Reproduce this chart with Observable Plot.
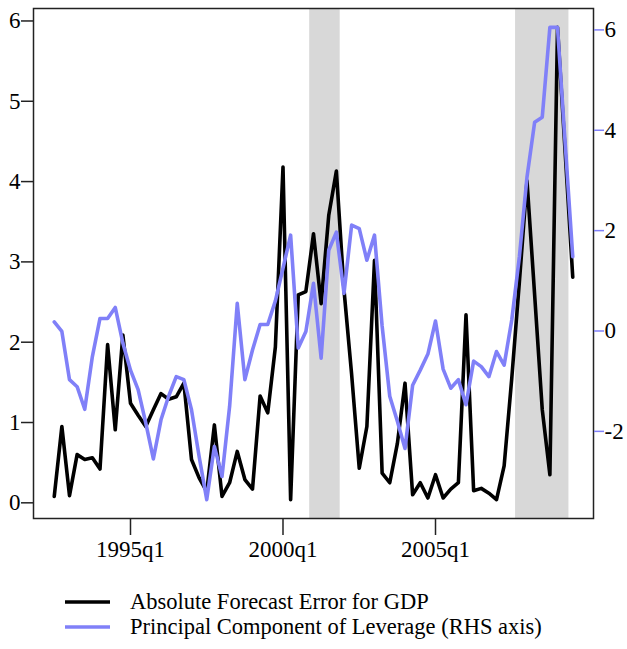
<!DOCTYPE html>
<html>
<head>
<meta charset="utf-8">
<script src="https://cdn.jsdelivr.net/npm/d3@7"></script>
<script src="https://cdn.jsdelivr.net/npm/@observablehq/plot@0.6"></script>
<style>
  html, body { margin: 0; padding: 0; background: white; }
  #legend { font-family: "Liberation Serif", serif; font-size: 22.5px; color: #000; margin-top: 14px; }
  .row { display: flex; align-items: center; height: 25px; padding-left: 65px; white-space: nowrap; }
  .row svg { margin-right: 20px; flex: none; }
  .row span { display: inline-block; line-height: 25px; }
</style>
</head>
<body>
<div id="chart"></div>
<div id="legend"></div>
<script>
// ---- data ----
const startYear = 1992, startQuarter = 3; // first observation 1992q3
const gdpError = [
  0.08, 0.95, 0.09, 0.60, 0.54, 0.56, 0.42, 1.97, 0.91, 2.09,
  1.24, 1.09, 0.95, 1.16, 1.36, 1.29, 1.32, 1.49, 0.54, 0.31,
  0.14, 0.97, 0.08, 0.25, 0.64, 0.29, 0.17, 1.33, 1.12, 1.94,
  4.18, 0.04, 2.59, 2.63, 3.35, 2.48, 3.58, 4.13, 2.65, 1.60,
  0.43, 0.95, 3.02, 0.37, 0.25, 0.74, 1.49, 0.10, 0.25, 0.06,
  0.35, 0.06, 0.17, 0.25, 2.34, 0.15, 0.18, 0.12, 0.04, 0.46,
  1.55, 2.75, 4.01, 2.59, 1.16, 0.35, 5.92, 4.37, 2.81
];
const leverage = [
  0.18, -0.01, -0.97, -1.11, -1.56, -0.51, 0.25, 0.25, 0.47, -0.24,
  -0.78, -1.17, -1.83, -2.55, -1.77, -1.30, -0.91, -0.97, -1.57, -2.50,
  -3.36, -2.30, -2.90, -1.50, 0.55, -0.97, -0.38, 0.13, 0.13, 0.60,
  1.25, 1.91, -0.34, -0.01, 0.95, -0.54, 1.61, 1.97, 0.75, 2.11,
  2.04, 1.41, 1.91, 0.10, -1.30, -1.80, -2.34, -1.08, -0.78, -0.46,
  0.20, -0.76, -1.14, -0.97, -1.47, -0.60, -0.71, -0.91, -0.41, -0.68,
  0.22, 1.48, 3.07, 4.16, 4.26, 6.05, 6.05, 3.75, 1.48
];
const recessionStart = ["2001q1", "2007q4"];
const recessionEnd   = ["2001q4", "2009q2"];
const xTickLabels = ["1995q1", "2000q1", "2005q1"];
const leftTicks = [0, 1, 2, 3, 4, 5, 6];
const rightTicks = [-2, 0, 2, 4, 6];
const seriesNames = ["Absolute Forecast Error for GDP", "Principal Component of Leverage (RHS axis)"];
const colors = ["#000000", "#8080f8"];

// ---- helpers ----
const qToNum = s => { const [y, q] = s.split("q").map(Number); return y + (q - 1) / 4; };
const time = gdpError.map((_, i) => startYear + (startQuarter - 1) / 4 + i / 4);
const pad = ([a, b]) => { const d = (b - a) * 0.04; return [a - d, b + d]; };
const xDom = pad(d3.extent(time));
const lDom = pad(d3.extent(gdpError));
const rDom = pad(d3.extent(leverage));
const toLeft = d3.scaleLinear().domain(rDom).range(lDom);

const black = time.map((t, i) => ({t, v: gdpError[i]}));
const blue = time.map((t, i) => ({t, v: toLeft(leverage[i])}));
const rec = recessionStart.map((s, i) => ({x1: qToNum(s) - 0.125, x2: qToNum(recessionEnd[i]) + 0.125}));

const font = "Liberation Serif";
const lw = 3.6;
const chart = Plot.plot({
  width: 627,
  height: 575,
  marginLeft: 33,
  marginRight: 34,
  marginTop: 8,
  marginBottom: 57,
  style: {fontFamily: font, background: "white", color: "#000"},
  x: {domain: xDom},
  y: {domain: lDom},
  marks: [
    Plot.rect(rec, {x1: "x1", x2: "x2", fill: "#d8d8d8"}),
    Plot.line(black, {x: "t", y: "v", stroke: colors[0], strokeWidth: lw, strokeLinejoin: "round"}),
    Plot.line(blue, {x: "t", y: "v", stroke: colors[1], strokeWidth: lw, strokeLinejoin: "round"}),
    Plot.frame({stroke: "#222", strokeWidth: 1.5}),
    Plot.axisX({ticks: xTickLabels.map(qToNum), tickFormat: (d, i) => xTickLabels[i], tickSize: 17, tickPadding: 5, fontSize: 23, stroke: "#222", strokeWidth: 1.5, label: null}),
    Plot.axisY({ticks: leftTicks, tickFormat: d => String(d), tickSize: 12, tickPadding: 1, fontSize: 23, stroke: "#222", strokeWidth: 1.5, label: null}),
    Plot.axisY({anchor: "right", ticks: rightTicks.map(toLeft), tickFormat: (d, i) => String(rightTicks[i]), tickSize: 10, tickPadding: 1, fontSize: 23, stroke: colors[1], fill: "#000", strokeWidth: 1.5, label: null})
  ]
});
document.getElementById("chart").appendChild(chart);

const legend = document.getElementById("legend");
seriesNames.forEach((name, i) => {
  const row = document.createElement("div");
  row.className = "row";
  row.innerHTML = `<svg width="45" height="4"><line x1="0" x2="45" y1="2" y2="2" stroke="${colors[i]}" stroke-width="${lw}"/></svg><span>${name}</span>`;
  legend.appendChild(row);
});
</script>
</body>
</html>
